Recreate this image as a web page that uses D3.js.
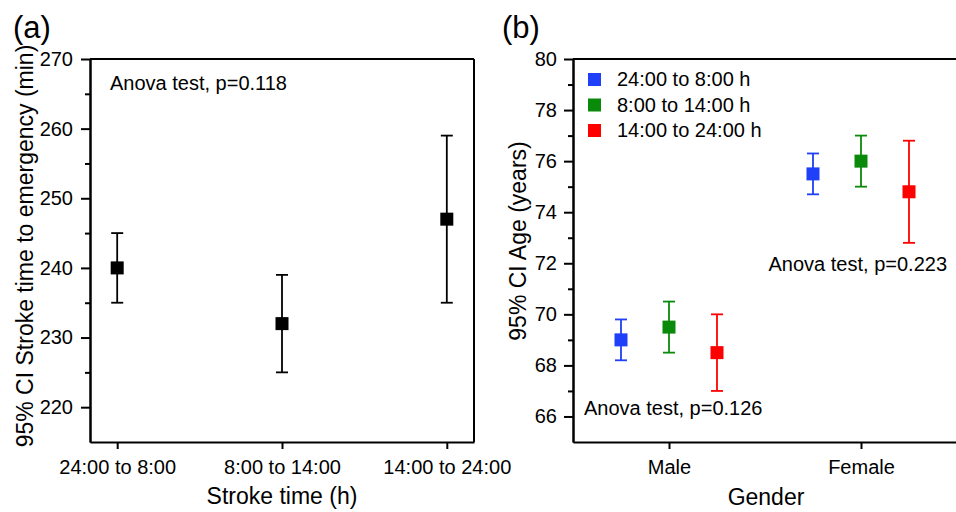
<!DOCTYPE html>
<html>
<head>
<meta charset="utf-8">
<script src="https://cdn.jsdelivr.net/npm/d3@7"></script>
<style>
    body { margin: 0; background: #fff; }
    svg { display: block; font-family: "Liberation Sans", Arial, sans-serif; }
    .axis path, .axis line { stroke: #000; stroke-width: 2; }
    .axis text { font-size: 20px; fill: #000; }
    .title { font-size: 23px; fill: #000; }
    .note { font-size: 20px; fill: #000; }
    .panel { font-size: 31px; fill: #000; }
    .frame { stroke: #000; stroke-width: 2; }
</style>
</head>
<body>
<svg class="chart"></svg>
<script>
// panel (a): stroke time to emergency
var strokeCats = ['24:00 to 8:00', '8:00 to 14:00', '14:00 to 24:00'];
var strokeMean = [240, 232, 247];
var strokeLow = [235, 225, 235];
var strokeHigh = [245, 239, 259];
var strokeTicks = [220, 230, 240, 250, 260, 270];
var strokeMinor = [225, 235, 245, 255, 265];

// panel (b): age by gender and stroke time
var genderCats = ['Male', 'Female'];
var seriesNames = ['24:00 to 8:00 h', '8:00 to 14:00 h', '14:00 to 24:00 h'];
var ageMean = [[69.0, 75.5], [69.5, 76.0], [68.5, 74.8]];
var ageLow = [[68.2, 74.7], [68.5, 75.0], [67.0, 72.8]];
var ageHigh = [[69.8, 76.3], [70.5, 77.0], [70.0, 76.8]];
var ageTicks = [66, 68, 70, 72, 74, 76, 78, 80];
var ageMinor = [67, 69, 71, 73, 75, 77, 79];

function show() {
    'use strict';

    var svg = d3.select('.chart')
        .attr('width', 956)
        .attr('height', 512);

    var colors = ['#1f3ff8', '#0a8a0a', '#ff0000'];
    var capW = 6, markW = 13;

    // ---------- panel (a) ----------
    var ax = { left: 90, right: 474, top: 59, bottom: 442 };

    var xA = d3.scalePoint().domain(strokeCats)
        .range([ax.left, ax.right]).padding(0.165);
    var yA = d3.scaleLinear().domain([215, 270])
        .range([ax.bottom, ax.top]);

    var gA = svg.append('g');

    // frame on top and right
    gA.append('line').attr('class', 'frame')
        .attr('x1', ax.left).attr('x2', ax.right)
        .attr('y1', ax.top).attr('y2', ax.top);
    gA.append('line').attr('class', 'frame')
        .attr('x1', ax.right).attr('x2', ax.right)
        .attr('y1', ax.top).attr('y2', ax.bottom);

    gA.append('g').attr('class', 'axis')
        .attr('transform', 'translate(' + ax.left + ',0)')
        .call(d3.axisLeft(yA).tickValues(strokeTicks).tickSize(9).tickPadding(8).tickSizeOuter(0));
    gA.append('g').attr('class', 'axis')
        .attr('transform', 'translate(' + ax.left + ',0)')
        .call(d3.axisLeft(yA).tickValues(strokeMinor).tickSize(5).tickFormat('').tickSizeOuter(0));
    gA.append('g').attr('class', 'axis')
        .attr('transform', 'translate(0,' + ax.bottom + ')')
        .call(d3.axisBottom(xA).tickSize(7).tickPadding(11).tickSizeOuter(0));

    var ptsA = gA.selectAll('g.pt').data(strokeCats).enter()
        .append('g').attr('class', 'pt');
    ptsA.append('line')
        .attr('x1', function (d) { return xA(d); })
        .attr('x2', function (d) { return xA(d); })
        .attr('y1', function (d, i) { return yA(strokeLow[i]); })
        .attr('y2', function (d, i) { return yA(strokeHigh[i]); })
        .attr('stroke', '#000').attr('stroke-width', 1.8);
    [strokeLow, strokeHigh].forEach(function (arr) {
        ptsA.append('line')
            .attr('x1', function (d) { return xA(d) - capW; })
            .attr('x2', function (d) { return xA(d) + capW; })
            .attr('y1', function (d, i) { return yA(arr[i]); })
            .attr('y2', function (d, i) { return yA(arr[i]); })
            .attr('stroke', '#000').attr('stroke-width', 1.8);
    });
    ptsA.append('rect')
        .attr('x', function (d) { return xA(d) - markW / 2; })
        .attr('y', function (d, i) { return yA(strokeMean[i]) - markW / 2; })
        .attr('width', markW).attr('height', markW)
        .attr('fill', '#000');

    gA.append('text').attr('class', 'note')
        .attr('x', 110).attr('y', 90)
        .text('Anova test, p=0.118');

    gA.append('text').attr('class', 'title')
        .attr('text-anchor', 'middle')
        .attr('x', (ax.left + ax.right) / 2).attr('y', 504)
        .text('Stroke time (h)');
    gA.append('text').attr('class', 'title')
        .attr('text-anchor', 'middle')
        .attr('transform', 'translate(33,246) rotate(-90)')
        .text('95% CI Stroke time to emergency (min)');

    gA.append('text').attr('class', 'panel')
        .attr('x', 13).attr('y', 38).text('(a)');

    // ---------- panel (b) ----------
    var bx = { left: 573, right: 957, top: 59, bottom: 442 };

    var xB = d3.scalePoint().domain(genderCats)
        .range([bx.left, bx.right]).padding(0.5);
    // offset of each series inside a gender group
    var xOff = d3.scalePoint().domain(seriesNames).range([-48, 48]);
    var yB = d3.scaleLinear().domain([65, 80])
        .range([bx.bottom, bx.top]);

    var gB = svg.append('g');

    gB.append('line').attr('class', 'frame')
        .attr('x1', bx.left).attr('x2', bx.right)
        .attr('y1', bx.top).attr('y2', bx.top);

    gB.append('g').attr('class', 'axis')
        .attr('transform', 'translate(' + bx.left + ',0)')
        .call(d3.axisLeft(yB).tickValues(ageTicks).tickSize(9).tickPadding(7).tickSizeOuter(0));
    gB.append('g').attr('class', 'axis')
        .attr('transform', 'translate(' + bx.left + ',0)')
        .call(d3.axisLeft(yB).tickValues(ageMinor).tickSize(5).tickFormat('').tickSizeOuter(0));
    gB.append('g').attr('class', 'axis')
        .attr('transform', 'translate(0,' + bx.bottom + ')')
        .call(d3.axisBottom(xB).tickSize(7).tickPadding(11).tickSizeOuter(0));

    seriesNames.forEach(function (s, si) {
        var col = colors[si];
        var g = gB.append('g');
        var pts = g.selectAll('g').data(genderCats).enter().append('g');
        var cx = function (d) { return xB(d) + xOff(s); };
        pts.append('line')
            .attr('x1', cx).attr('x2', cx)
            .attr('y1', function (d, i) { return yB(ageLow[si][i]); })
            .attr('y2', function (d, i) { return yB(ageHigh[si][i]); })
            .attr('stroke', col).attr('stroke-width', 1.8);
        [ageLow[si], ageHigh[si]].forEach(function (arr) {
            pts.append('line')
                .attr('x1', function (d) { return cx(d) - capW; })
                .attr('x2', function (d) { return cx(d) + capW; })
                .attr('y1', function (d, i) { return yB(arr[i]); })
                .attr('y2', function (d, i) { return yB(arr[i]); })
                .attr('stroke', col).attr('stroke-width', 1.8);
        });
        pts.append('rect')
            .attr('x', function (d) { return cx(d) - markW / 2; })
            .attr('y', function (d, i) { return yB(ageMean[si][i]) - markW / 2; })
            .attr('width', markW).attr('height', markW)
            .attr('fill', col);
    });

    // legend
    var leg = gB.selectAll('g.leg').data(seriesNames).enter()
        .append('g').attr('class', 'leg')
        .attr('transform', function (d, i) { return 'translate(588,' + (79 + i * 25.5) + ')'; });
    leg.append('rect')
        .attr('x', 0).attr('y', -6).attr('width', 13).attr('height', 13)
        .attr('fill', function (d, i) { return colors[i]; });
    leg.append('text').attr('class', 'note')
        .attr('x', 29).attr('y', 7)
        .text(function (d) { return d; });

    gB.append('text').attr('class', 'note')
        .attr('text-anchor', 'end')
        .attr('x', 947).attr('y', 271)
        .text('Anova test, p=0.223');
    gB.append('text').attr('class', 'note')
        .attr('x', 584).attr('y', 415)
        .text('Anova test, p=0.126');

    gB.append('text').attr('class', 'title')
        .attr('text-anchor', 'middle')
        .attr('x', 766).attr('y', 505)
        .text('Gender');
    gB.append('text').attr('class', 'title')
        .attr('text-anchor', 'middle')
        .attr('transform', 'translate(526,241) rotate(-90)')
        .text('95% CI Age (years)');

    gB.append('text').attr('class', 'panel')
        .attr('x', 502).attr('y', 38).text('(b)');
}

show();
</script>
</body>
</html>
